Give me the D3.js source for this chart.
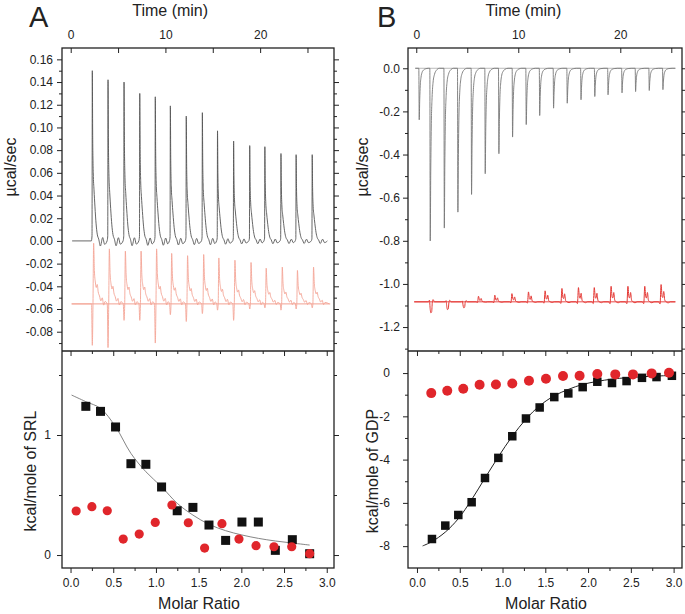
<!DOCTYPE html>
<html>
<head>
<meta charset="utf-8">
<script src="https://cdn.jsdelivr.net/npm/d3@7"></script>
<style>
body { margin: 0; background: #fff; }
text { font-family: "Liberation Sans", Arial, sans-serif; }
</style>
</head>
<body>
<div id="chart"></div>
<script>
// ---- Panel A (SRL) : raw heat, injection times in min ----
var aTimes = [2.28, 3.94, 5.63, 7.29, 8.93, 10.52, 12.2, 13.9, 15.5, 17.2, 18.9, 20.5, 22.2, 23.8, 25.5];
var aPeaks = [0.150, 0.142, 0.140, 0.130, 0.127, 0.119, 0.110, 0.113, 0.097, 0.088, 0.084, 0.083, 0.077, 0.076, 0.076];
var aRedUp = [-0.002, -0.007, -0.009, -0.009, -0.007, -0.011, -0.013, -0.012, -0.015, -0.017, -0.019, -0.024, -0.023, -0.026, -0.023];
var aRedDown = [-0.092, -0.094, -0.070, -0.070, -0.090, -0.065, -0.071, -0.064, -0.061, -0.070, -0.060, -0.059, -0.061, -0.060, -0.059];
var aRedBase = -0.0555;

// Panel A : integrated heats
var aRatio = [0.179, 0.351, 0.527, 0.707, 0.882, 1.066, 1.249, 1.433, 1.621, 1.816, 2.007, 2.199, 2.398, 2.597, 2.80];
var aHeat = [1.239, 1.197, 1.067, 0.761, 0.756, 0.567, 0.369, 0.397, 0.25, 0.122, 0.275, 0.275, 0.039, 0.128, 0.011];
var aCtrlRatio = [0.066, 0.25, 0.43, 0.617, 0.804, 0.992, 1.187, 1.379, 1.57, 1.773, 1.972, 2.172, 2.382, 2.59, 2.80];
var aCtrlHeat = [0.367, 0.403, 0.369, 0.133, 0.175, 0.272, 0.417, 0.269, 0.058, 0.261, 0.133, 0.078, 0.069, 0.069, 0.011];
var aFitRatio = [0.012, 0.179, 0.351, 0.527, 0.707, 0.882, 1.066, 1.249, 1.433, 1.621, 1.816, 2.007, 2.199, 2.398, 2.597, 2.80];
var aFitHeat = [1.333, 1.278, 1.222, 1.069, 0.847, 0.694, 0.569, 0.431, 0.333, 0.256, 0.203, 0.167, 0.139, 0.117, 0.10, 0.083];

// ---- Panel B (GDP) : raw heat ----
var bTimes = [0.29, 1.37, 2.75, 4.08, 5.42, 6.76, 8.1, 9.44, 10.78, 12.1, 13.46, 14.8, 16.15, 17.5, 18.8, 20.17, 21.5, 22.84, 24.18];
var bPeaks = [-0.239, -0.801, -0.741, -0.667, -0.585, -0.489, -0.396, -0.319, -0.261, -0.219, -0.185, -0.162, -0.146, -0.131, -0.123, -0.114, -0.108, -0.103, -0.099];
var bRedTimes = [1.37, 3.0, 4.6, 6.1, 7.7, 9.38, 11.0, 12.63, 14.28, 15.9, 17.45, 19.1, 20.75, 22.4, 24.0];
var bRedPeaks = [-1.134, -1.119, -1.111, -1.057, -1.052, -1.045, -1.037, -1.032, -1.021, -1.017, -1.017, -1.011, -1.011, -1.011, -1.003];
var bRedBase = -1.083;

// Panel B : integrated heats
var bRatio = [0.175, 0.331, 0.483, 0.639, 0.795, 0.951, 1.114, 1.274, 1.434, 1.605, 1.769, 1.937, 2.108, 2.28, 2.45, 2.63, 2.80, 2.98];
var bHeat = [-7.67, -7.05, -6.56, -5.97, -4.85, -3.92, -2.92, -2.10, -1.59, -1.11, -0.94, -0.65, -0.40, -0.46, -0.37, -0.22, -0.185, -0.125];
var bCtrlRatio = [0.167, 0.354, 0.541, 0.732, 0.923, 1.114, 1.309, 1.508, 1.707, 1.901, 2.108, 2.318, 2.525, 2.743, 2.946];
var bCtrlHeat = [-0.926, -0.82, -0.725, -0.54, -0.525, -0.48, -0.355, -0.262, -0.139, -0.123, -0.046, -0.062, -0.062, -0.015, 0.015];
var bFitRatio = [0.066, 0.175, 0.331, 0.483, 0.639, 0.795, 0.951, 1.114, 1.274, 1.434, 1.605, 1.769, 1.937, 2.108, 2.28, 2.45, 2.63, 2.80, 2.98];
var bFitHeat = [-7.99, -7.79, -7.35, -6.73, -5.85, -4.85, -3.87, -2.92, -2.13, -1.51, -1.05, -0.756, -0.525, -0.386, -0.278, -0.216, -0.17, -0.139, -0.108];

// ---- ticks ----
var timeTicks = [0, 5, 10, 15, 20, 25];
var timeLabels = [0, 10, 20];
var ratioTicks = [0, 0.5, 1, 1.5, 2, 2.5, 3];
var ratioMinor = [0.25, 0.75, 1.25, 1.75, 2.25, 2.75];
var aRawTicks = [-0.08, -0.06, -0.04, -0.02, 0, 0.02, 0.04, 0.06, 0.08, 0.10, 0.12, 0.14, 0.16];
var aRawMinor = [-0.09, -0.07, -0.05, -0.03, -0.01, 0.01, 0.03, 0.05, 0.07, 0.09, 0.11, 0.13, 0.15];
var aHeatTicks = [0, 1];
var aHeatMinor = [0.5, 1.5];
var bRawTicks = [-1.2, -1.0, -0.8, -0.6, -0.4, -0.2, 0];
var bRawMinor = [-1.3, -1.1, -0.9, -0.7, -0.5, -0.3, -0.1];
var bHeatTicks = [-8, -6, -4, -2, 0];
var bHeatMinor = [-7, -5, -3, -1];

// peak profiles: [dt (min), fraction of up peak, fraction of down peak]
var aBlackShape = [[-0.1, 0, 0], [-0.03, 0.03, 0], [0, 1, 0], [0.04, 0.62, 0], [0.1, 0.4, 0], [0.18, 0.3, 0],
    [0.28, 0.2, 0], [0.4, 0.1, 0], [0.52, 0.04, 0], [0.68, 0.01, 0], [0.85, -0.03, 0], [1.1, 0.02, 0], [1.3, -0.02, 0]];
var aRedShape = [[-0.08, 0, 0], [0, 0, 1], [0.07, 0, 0.05], [0.14, 1, 0], [0.22, 0.55, 0], [0.32, 0.36, 0], [0.42, 0.27, 0],
    [0.52, 0.32, 0], [0.62, 0.2, 0], [0.76, 0.13, 0], [0.9, 0.05, 0], [1.05, 0.1, 0], [1.2, -0.02, 0], [1.35, 0.04, 0]];
var bBlackShape = [[-0.04, 0, 0], [0, 1, 0], [0.05, 0.6, 0], [0.1, 0.34, 0], [0.18, 0.17, 0], [0.28, 0.08, 0],
    [0.42, 0.035, 0], [0.6, 0.012, 0], [0.9, 0, 0]];
var bDipShape = [[-0.16, 0, 0], [-0.08, -0.15, 0], [0, 0.7, 0], [0.06, 1, 0], [0.14, 0.9, 0], [0.2, 0.1, 0], [0.28, -0.2, 0], [0.42, 0, 0]];
var bHumpShape = [[-0.25, 0, 0], [-0.1, -0.12, 0], [0, 1, 0], [0.1, 0.3, 0], [0.17, 0.25, 0], [0.26, 0.6, 0], [0.36, 0.1, 0],
    [0.5, 0, 0], [0.7, -0.06, 0], [0.9, 0, 0]];

var svg = d3.select("#chart").append("svg")
    .attr("width", 685)
    .attr("height", 614);

var mid = 351, top0 = 48, bot0 = 568;

function trace(times, up, down, base, shape, t0, t1) {
    var pts = [[t0, base]];
    times.forEach(function(t, i) {
        var sh = typeof shape === "function" ? shape(i) : shape;
        sh.forEach(function(p) {
            pts.push([t + p[0], base + p[1] * (up[i] - base) + p[2] * (down[i] - base)]);
        });
    });
    pts.push([t1, base]);
    return pts;
}

function addTicks(orient, scale, at, values, size, pad, fmt) {
    var mk = {left: d3.axisLeft, right: d3.axisRight, top: d3.axisTop, bottom: d3.axisBottom}[orient];
    var ax = mk(scale)
        .tickValues(values)
        .tickSizeInner(size)
        .tickSizeOuter(0)
        .tickPadding(pad || 3)
        .tickFormat(fmt || function() { return ""; });
    var tr = (orient === "left" || orient === "right") ? "translate(" + at + ",0)" : "translate(0," + at + ")";
    var g = svg.append("g").attr("transform", tr).call(ax);
    g.select(".domain").remove();
    g.selectAll("line").attr("stroke", "#222").attr("stroke-width", 1);
    g.selectAll("text")
        .attr("font-size", 12)
        .attr("fill", "#222")
        .attr("font-family", "'Liberation Sans', Arial, sans-serif");
    return g;
}

function fixed(n) { return function(d) { return d.toFixed(n); }; }
function timeFmt(d) { return timeLabels.indexOf(d) >= 0 ? String(d) : ""; }

function drawLine(pts, x, y, color, width, curve) {
    svg.append("path")
        .datum(pts)
        .attr("fill", "none")
        .attr("stroke", color)
        .attr("stroke-width", width)
        .attr("stroke-linejoin", "round")
        .attr("d", d3.line()
            .x(function(d) { return x(d[0]); })
            .y(function(d) { return y(d[1]); })
            .curve(curve || d3.curveLinear));
}

function drawPanel(p) {
    var xt = d3.scaleLinear().domain(p.timeDomain).range([p.left, p.right]);
    var yr = d3.scaleLinear().domain(p.rawDomain).range([mid, top0]);
    var xm = d3.scaleLinear().domain(p.ratioDomain).range([p.left, p.right]);
    var yh = d3.scaleLinear().domain(p.heatDomain).range([bot0, mid]);

    // raw traces
    p.traces.forEach(function(tr) {
        if (tr.flat) {
            drawLine([[tr.flat[0], tr.base], [tr.flat[1], tr.base]], xt, yr, tr.flatColor, 1);
        }
        drawLine(tr.pts, xt, yr, tr.color, tr.width, d3.curveMonotoneX);
    });

    // fit + integrated points
    drawLine(d3.zip(p.fitX, p.fitY), xm, yh, p.fitColor, p.fitWidth, d3.curveCatmullRom);
    svg.append("g").selectAll("rect")
        .data(d3.zip(p.ratio, p.heat))
        .enter().append("rect")
        .attr("x", function(d) { return xm(d[0]) - p.sq / 2; })
        .attr("y", function(d) { return yh(d[1]) - p.sq / 2; })
        .attr("width", p.sq)
        .attr("height", p.sq)
        .attr("fill", "#111");
    svg.append("g").selectAll("circle")
        .data(d3.zip(p.ctrlRatio, p.ctrlHeat))
        .enter().append("circle")
        .attr("cx", function(d) { return xm(d[0]); })
        .attr("cy", function(d) { return yh(d[1]); })
        .attr("r", p.cr)
        .attr("fill", "#e0262b");

    // frame
    svg.append("rect")
        .attr("x", p.left).attr("y", top0)
        .attr("width", p.right - p.left).attr("height", bot0 - top0)
        .attr("fill", "none").attr("stroke", "#222").attr("stroke-width", 1.3);
    svg.append("line")
        .attr("x1", p.left).attr("x2", p.right)
        .attr("y1", mid).attr("y2", mid)
        .attr("stroke", "#222").attr("stroke-width", 1.3);

    // axes, top panel
    addTicks("top", xt, top0, timeTicks, -5, 9, timeFmt);
    addTicks("left", yr, p.left, p.rawMinor, 3);
    addTicks("left", yr, p.left, p.rawTicks, 5, p.rawPad, fixed(p.rawDigits));
    addTicks("right", yr, p.right, p.rawMinor, 3);
    addTicks("right", yr, p.right, p.rawTicks, 5);

    // axes, bottom panel
    addTicks("top", xm, mid, ratioMinor, -3);
    addTicks("top", xm, mid, ratioTicks, -5);
    addTicks("bottom", xm, bot0, ratioMinor, 3);
    addTicks("bottom", xm, bot0, ratioTicks, 5, 5, fixed(1));
    addTicks("left", yh, p.left, p.heatMinor, 3);
    addTicks("left", yh, p.left, p.heatTicks, 5, p.heatPad, fixed(0));
    addTicks("right", yh, p.right, p.heatMinor, 3);
    addTicks("right", yh, p.right, p.heatTicks, 5);

    // titles
    var cx = (p.left + p.right) / 2;
    svg.append("text").attr("x", p.letterX).attr("y", 27)
        .attr("font-size", 29).attr("fill", "#222").text(p.letter);
    svg.append("text").attr("x", xt(10.5)).attr("y", 16)
        .attr("text-anchor", "middle").attr("font-size", 16).attr("fill", "#222").text("Time (min)");
    svg.append("text").attr("x", cx + 1).attr("y", 609)
        .attr("text-anchor", "middle").attr("font-size", 16).attr("fill", "#222").text("Molar Ratio");
    svg.append("text")
        .attr("transform", "translate(" + p.rawLabelX + "," + 167 + ") rotate(-90)")
        .attr("text-anchor", "middle").attr("font-size", 16).attr("fill", "#222").text("µcal/sec");
    svg.append("text")
        .attr("transform", "translate(" + p.heatLabelX + "," + 471 + ") rotate(-90)")
        .attr("text-anchor", "middle").attr("font-size", 16).attr("fill", "#222").text(p.heatLabel);
}

drawPanel({
    letter: "A", letterX: 29,
    left: 62, right: 334,
    timeDomain: [-0.92, 27.8], rawDomain: [-0.097, 0.170],
    ratioDomain: [-0.1, 3.085], heatDomain: [-0.108, 1.7],
    rawTicks: aRawTicks, rawMinor: aRawMinor, rawDigits: 2, rawPad: 4,
    heatTicks: aHeatTicks, heatMinor: aHeatMinor, heatPad: 6,
    rawLabelX: 16, heatLabelX: 36, heatLabel: "kcal/mole of SRL",
    traces: [
        {pts: trace(aTimes, aRedUp, aRedDown, aRedBase, aRedShape, 0.1, 27.3), base: aRedBase,
         flat: [0.1, 27.4], flatColor: "#f2a092", color: "#f4a596", width: 0.9},
        {pts: trace(aTimes, aPeaks, aPeaks, 0, aBlackShape, 0.15, 27.1), color: "#555", width: 0.9}
    ],
    fitX: aFitRatio, fitY: aFitHeat, fitColor: "#777", fitWidth: 0.9,
    ratio: aRatio, heat: aHeat, ctrlRatio: aCtrlRatio, ctrlHeat: aCtrlHeat,
    sq: 9, cr: 4.6
});

drawPanel({
    letter: "B", letterX: 377,
    left: 408, right: 682,
    timeDomain: [-0.81, 26.05], rawDomain: [-1.311, 0.094],
    ratioDomain: [-0.105, 3.098], heatDomain: [-9.01, 1.02],
    rawTicks: bRawTicks, rawMinor: bRawMinor, rawDigits: 1, rawPad: 3,
    heatTicks: bHeatTicks, heatMinor: bHeatMinor, heatPad: 13,
    rawLabelX: 368, heatLabelX: 378, heatLabel: "kcal/mole of GDP",
    traces: [
        {pts: trace(bTimes, bPeaks, bPeaks, 0, bBlackShape, -0.1, 25.4), base: 0,
         flat: [-0.1, 25.4], flatColor: "#bbb", color: "#777", width: 0.9},
        {pts: trace(bRedTimes, bRedPeaks, bRedPeaks, bRedBase,
            function(i) { return bRedPeaks[i] < bRedBase ? bDipShape : bHumpShape; }, -0.2, 25.4),
         base: bRedBase, flat: [-0.2, 25.4], flatColor: "#e84a4a", color: "#e53935", width: 1}
    ],
    fitX: bFitRatio, fitY: bFitHeat, fitColor: "#222", fitWidth: 1,
    ratio: bRatio, heat: bHeat, ctrlRatio: bCtrlRatio, ctrlHeat: bCtrlHeat,
    sq: 8.5, cr: 5
});
</script>
</body>
</html>
